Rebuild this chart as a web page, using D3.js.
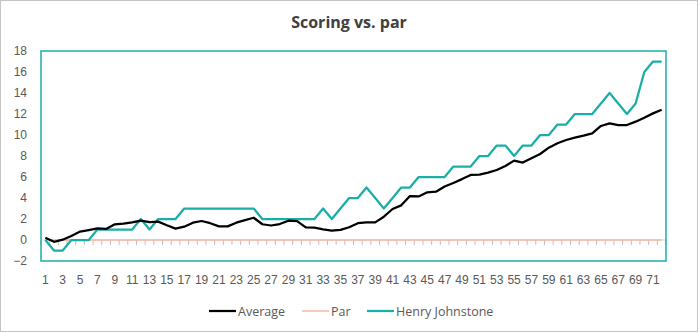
<!DOCTYPE html>
<html><head><meta charset="utf-8">
<script src="https://cdn.jsdelivr.net/npm/d3@7"></script>
<style>
html,body{margin:0;padding:0;background:#fff;}
svg{display:block;font-family:"Segoe UI","Open Sans","Noto Sans",sans-serif;}
</style></head>
<body><svg id="chart" width="699" height="333"></svg>
<script>
const rounds = d3.range(1, 73);
const average = [0.22,-0.17,0.03,0.38,0.8,0.95,1.1,1.05,1.49,1.55,1.68,1.85,1.71,1.75,1.4,1.08,1.27,1.65,1.81,1.6,1.3,1.3,1.65,1.9,2.12,1.5,1.38,1.52,1.84,1.8,1.2,1.17,1.02,0.9,0.96,1.21,1.6,1.68,1.68,2.22,2.95,3.3,4.19,4.15,4.54,4.6,5.1,5.43,5.8,6.2,6.22,6.42,6.67,7.05,7.56,7.37,7.78,8.19,8.79,9.21,9.52,9.75,9.94,10.16,10.86,11.11,10.95,10.95,11.27,11.65,12.06,12.41];
const par = rounds.map(() => 0);
const henry = [0,-1,-1,0,0,0,1,1,1,1,1,2,1,2,2,2,3,3,3,3,3,3,3,3,3,2,2,2,2,2,2,2,3,2,3,4,4,5,4,3,4,5,5,6,6,6,6,7,7,7,8,8,9,9,8,9,9,10,10,11,11,12,12,12,13,14,13,12,13,16,17,17];
const yTicks = [-2,0,2,4,6,8,10,12,14,16,18];
const xTickLabels = rounds.filter(d => d % 2 === 1);
const seriesNames = ["Average", "Par", "Henry Johnstone"];
const seriesColors = ["#000000", "#F5B7A5", "#1BADA8"];

const svg = d3.select("#chart");
const W = 699, H = 333;
const pLeft = 41, pRight = 666, pTop = 51, pBottom = 261;

svg.append("rect").attr("x",0.5).attr("y",0.5).attr("width",W-2).attr("height",H-2)
  .attr("fill","#fff").attr("stroke","#c4c4c4").attr("stroke-width",1);

svg.append("text").attr("x",349).attr("y",28).attr("text-anchor","middle")
  .attr("font-size",16).attr("font-weight","bold").attr("fill","#404040").text("Scoring vs. par");

const x = d3.scaleBand().domain(rounds).range([pLeft,pRight]).padding(0);
const y = d3.scaleLinear().domain([-2,18]).range([pBottom,pTop]);
const cx = d => x(d) + x.bandwidth()/2;

const yAxis = d3.axisLeft(y).tickValues(yTicks).tickSize(0).tickPadding(14);
const gy = svg.append("g").attr("transform",`translate(${pLeft},0)`).call(yAxis);
gy.select(".domain").remove();
gy.selectAll("text").attr("font-size",12).attr("fill","#595959").attr("font-family",null);

svg.append("line").attr("x1",pLeft).attr("x2",pRight).attr("y1",y(0)).attr("y2",y(0))
  .attr("stroke","#d9d9d9").attr("stroke-width",1);
const tickPos = rounds.map(d => x(d)).concat([pRight]);
svg.append("g").selectAll("line").data(tickPos).join("line")
  .attr("x1",d=>d).attr("x2",d=>d).attr("y1",y(0)).attr("y2",y(0)+5)
  .attr("stroke","#bfbfbf").attr("stroke-width",1);

const gx = svg.append("g").attr("transform",`translate(0,${pBottom})`)
  .call(d3.axisBottom(x).tickValues(xTickLabels).tickSize(0).tickPadding(14));
gx.select(".domain").remove();
gx.selectAll("text").attr("font-size",12).attr("fill","#595959").attr("font-family",null);

const line = d3.line().x((d,i) => cx(rounds[i])).y(d => y(d));
svg.append("path").datum(par).attr("d",line).attr("fill","none")
  .attr("stroke",seriesColors[1]).attr("stroke-width",1.5);
svg.append("path").datum(henry).attr("d",line).attr("fill","none")
  .attr("stroke",seriesColors[2]).attr("stroke-width",2.25).attr("stroke-linejoin","round");
svg.append("path").datum(average).attr("d",line).attr("fill","none")
  .attr("stroke",seriesColors[0]).attr("stroke-width",2.25).attr("stroke-linejoin","round");

svg.append("rect").attr("x",pLeft).attr("y",pTop).attr("width",pRight-pLeft).attr("height",pBottom-pTop)
  .attr("fill","none").attr("stroke",seriesColors[2]).attr("stroke-width",1.5);

const legX = [209, 302, 367];
const lg = svg.append("g");
seriesNames.forEach((n,i) => {
  lg.append("line").attr("x1",legX[i]).attr("x2",legX[i]+27).attr("y1",311).attr("y2",311)
    .attr("stroke",seriesColors[i]).attr("stroke-width", i===1?1.5:2.25);
  lg.append("text").attr("x",legX[i]+29).attr("y",315.5).attr("font-size",12.5)
    .attr("fill","#595959").text(n);
});
</script></body></html>
